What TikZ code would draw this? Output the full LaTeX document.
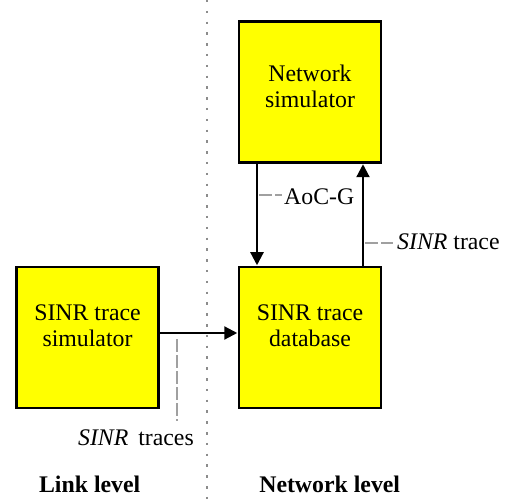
\documentclass[tikz,border=0pt]{standalone}
\usepackage{fontspec}
\setmainfont{Liberation Serif}
\usetikzlibrary{arrows.meta,calc}
\definecolor{boxyellow}{RGB}{255,255,0}
\definecolor{dotgray}{RGB}{140,140,140}
\definecolor{leadgray}{RGB}{160,160,160}
\begin{document}
\begin{tikzpicture}[x=1pt,y=-1pt,
 box/.style={draw=black,line width=2.5pt,fill=boxyellow,minimum width=142pt,minimum height=141pt,inner sep=0pt},
 boxtext/.style={align=center,font=\fontsize{23.8}{26}\selectfont,inner sep=0pt},
 flow/.style={line width=2.2pt,-{Triangle[length=13pt,width=13pt]},shorten >=0.5pt},
 leader/.style={draw=leadgray,line width=2pt,dash pattern=on 12.5pt off 3.5pt},
 dotline/.style={draw=dotgray,line width=2.5pt,dash pattern=on 2.5pt off 8.3pt},
 lbl/.style={font=\fontsize{23.8}{26}\selectfont,inner sep=0pt},
 lvl/.style={font=\fontsize{23.8}{26}\selectfont\bfseries,inner sep=0pt}]
\useasboundingbox (0,0) rectangle (512,500);
% divider
\coordinate (divtop) at (207,0);
\coordinate (divbot) at (207,500);
\draw[dotline] (divtop) -- (divbot);
% boxes
\node[box] (ns) at (310,92) {};
\node[box] (db) at (310,337.5) {};
\node[box] (sim) at (87.5,337.5) {};
\node[boxtext] (nst) at ([yshift=6pt]ns.center) {Network\\simulator};
\node[boxtext] (dbt) at ([yshift=12pt]db.center) {SINR trace\\database};
\node[boxtext] (simt) at ([yshift=12pt]sim.center) {SINR trace\\simulator};
% connectors
\draw[flow] ([xshift=-53pt]ns.south) -- ([xshift=-53pt]db.north);
\draw[flow] ([xshift=53pt]db.north) -- ([xshift=53pt]ns.south);
\draw[flow] ([yshift=4.5pt]sim.east) -- ([yshift=4.5pt]db.west);
% labels
\node[lbl,anchor=base west] (aoc) at (284,205) {AoC-G};
\node[lbl,anchor=base west] (st) at (397,250) {\textit{SINR} trace};
\node[lbl,anchor=base east] (sts) at (194,445) {\textit{SINR}\, traces};
\coordinate (aocl) at (259,195);
\coordinate (stl) at (365,243);
\coordinate (stsl) at (177,339);
\coordinate (stsb) at (177,421);
\draw[leader] (aocl) -- ([xshift=-2pt]aocl -| aoc.west);
\draw[leader] (stl) -- ([xshift=-4pt]stl -| st.west);
\draw[leader] (stsl) -- (stsb);
% level titles
\node[lvl,anchor=base] (ll) at (89.7,492) {Link level};
\node[lvl,anchor=base] (nl) at (329.7,492) {Network level};
\end{tikzpicture}
\end{document}
